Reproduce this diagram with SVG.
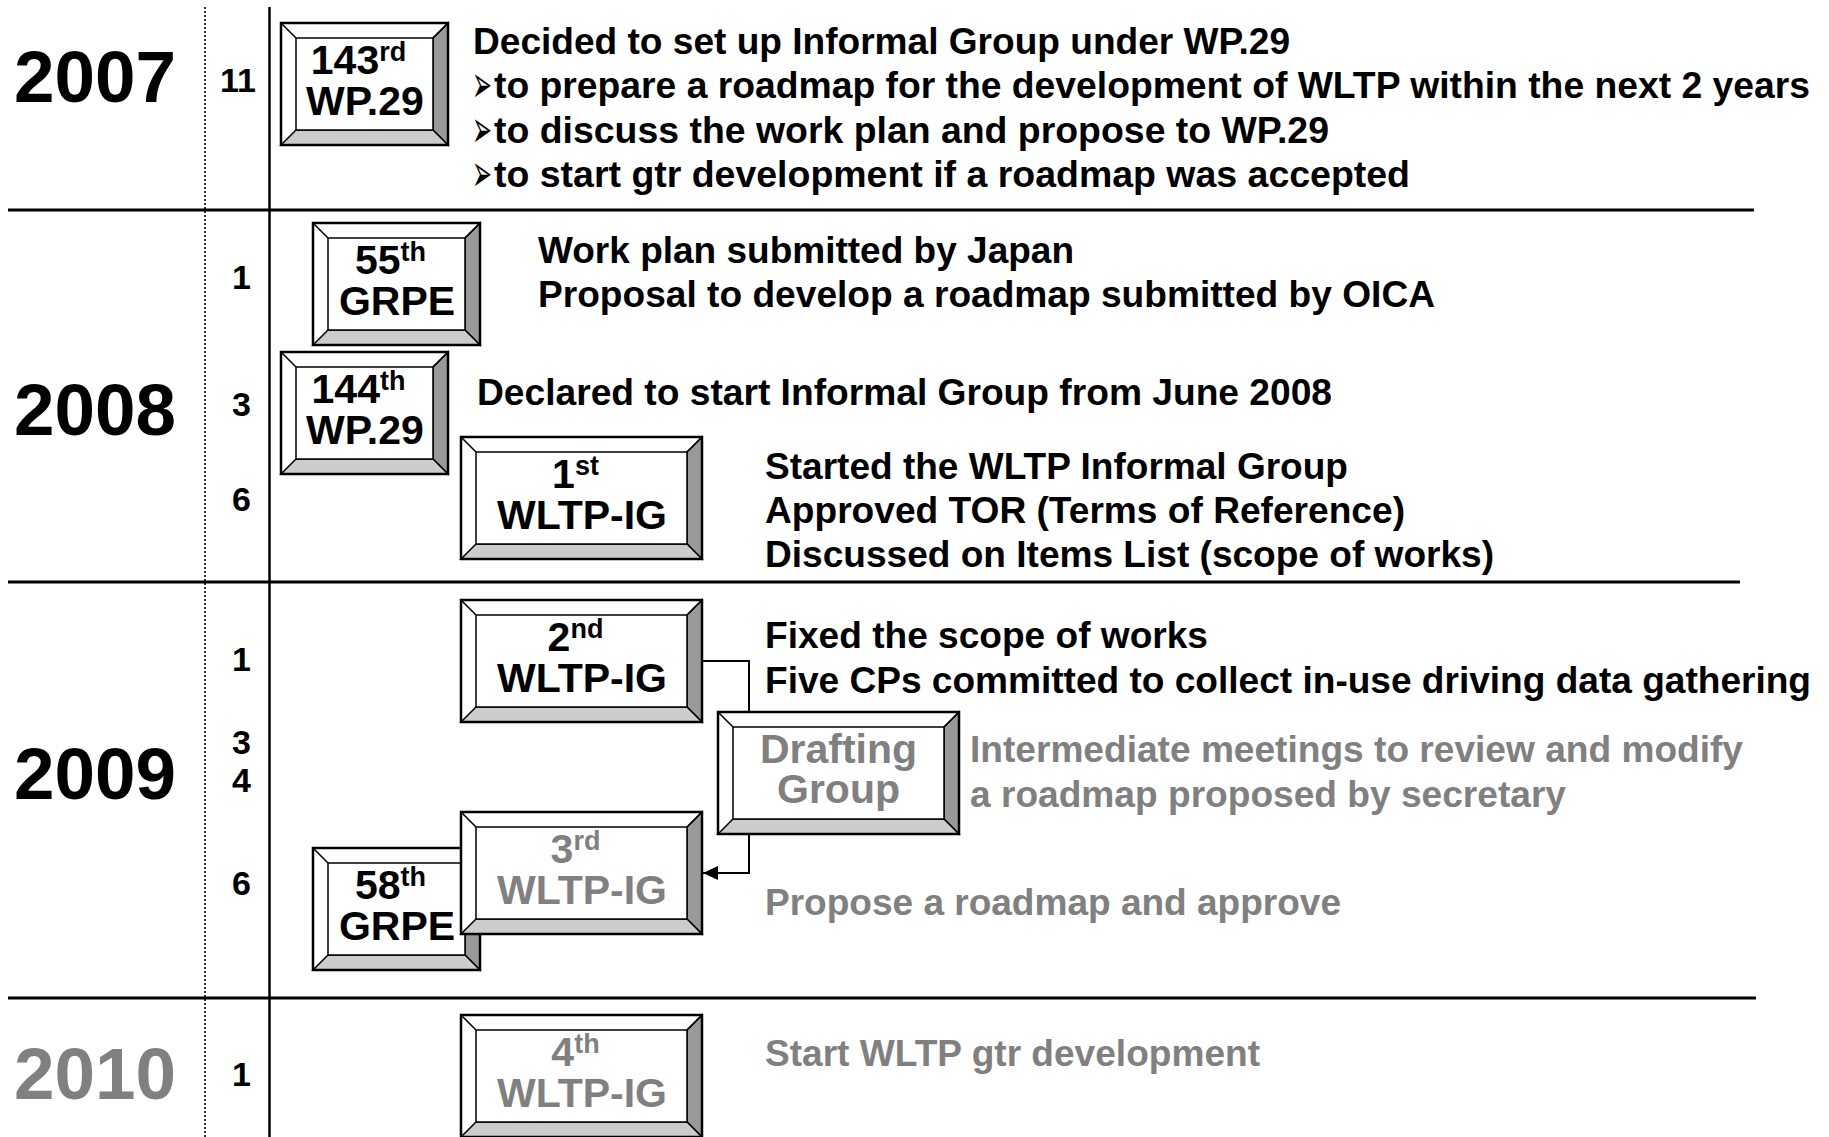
<svg xmlns="http://www.w3.org/2000/svg" width="1829" height="1137" viewBox="0 0 1829 1137">
<style>
  text { font-family: "Liberation Sans", Arial, sans-serif; font-weight: bold; fill: #000; }
  .yr { font-size: 72px; }
  .mo { font-size: 34px; text-anchor: middle; }
  .bx { font-size: 41px; text-anchor: middle; }
  .sup { font-size: 27px; }
  .tx { font-size: 37px; }
  .gray { fill: #808080; }
  .bul { font-family: "DejaVu Sans", sans-serif; font-size: 52px; font-weight: normal; }
  .sep { stroke: #000; stroke-width: 3; }
  .conn { fill: none; stroke: #000; stroke-width: 2; }
  .bev { stroke: #000; stroke-width: 1.5; stroke-linejoin: miter; }
</style>
<defs>
  <g id="bevS">
    <rect x="0" y="0" width="167" height="122" fill="#fff"/>
    <polygon class="bev" points="167,0 167,122 152,107 152,15" fill="#999"/>
    <polygon class="bev" points="0,122 167,122 152,107 15,107" fill="#ccc"/>
    <path class="bev" d="M0,0 L15,15 M167,0 L152,15" fill="none"/>
    <rect class="bev" x="15" y="15" width="137" height="92" fill="#fff"/>
    <rect x="0" y="0" width="167" height="122" fill="none" stroke="#000" stroke-width="2.5"/>
  </g>
  <g id="bevL">
    <rect x="0" y="0" width="241" height="122" fill="#fff"/>
    <polygon class="bev" points="241,0 241,122 226,107 226,15" fill="#999"/>
    <polygon class="bev" points="0,122 241,122 226,107 15,107" fill="#ccc"/>
    <path class="bev" d="M0,0 L15,15 M241,0 L226,15" fill="none"/>
    <rect class="bev" x="15" y="15" width="211" height="92" fill="#fff"/>
    <rect x="0" y="0" width="241" height="122" fill="none" stroke="#000" stroke-width="2.5"/>
  </g>
  <marker id="arr" markerUnits="userSpaceOnUse" markerWidth="16" markerHeight="14" refX="15" refY="7" orient="auto">
    <path d="M0,0 L15,7 L0,14 z" fill="#000"/>
  </marker>
</defs>

<g id="grid">
  <line x1="205" y1="7" x2="205" y2="1137" stroke="#333" stroke-width="2" stroke-dasharray="2,2"/>
  <line x1="269.5" y1="7" x2="269.5" y2="1137" stroke="#000" stroke-width="2.5"/>
  <line class="sep" x1="8" y1="210" x2="1754" y2="210"/>
  <line class="sep" x1="8" y1="582" x2="1740" y2="582"/>
  <line class="sep" x1="8" y1="998" x2="1756" y2="998" stroke-width="2.5"/>
</g>

<g id="years">
  <text class="yr" x="14" y="102" textLength="162" lengthAdjust="spacingAndGlyphs">2007</text>
  <text class="yr" x="14" y="435" textLength="162" lengthAdjust="spacingAndGlyphs">2008</text>
  <text class="yr" x="14" y="799" textLength="162" lengthAdjust="spacingAndGlyphs">2009</text>
  <text class="yr gray" x="14" y="1099" textLength="162" lengthAdjust="spacingAndGlyphs">2010</text>
</g>

<g id="months">
  <text class="mo" x="238" y="92">11</text>
  <text class="mo" x="241.5" y="289">1</text>
  <text class="mo" x="241.5" y="416">3</text>
  <text class="mo" x="241.5" y="511">6</text>
  <text class="mo" x="241.5" y="671">1</text>
  <text class="mo" x="241.5" y="754">3</text>
  <text class="mo" x="241.5" y="792">4</text>
  <text class="mo" x="241.5" y="895">6</text>
  <text class="mo" x="241.5" y="1086">1</text>
</g>

<g id="connectors">
  <path class="conn" d="M702,661 H749 V712"/>
  <path class="conn" d="M749,834 V873 H703" marker-end="url(#arr)"/>
</g>

<g id="node-wp29-143">
  <use href="#bevS" x="281" y="23"/>
  <text class="bx" x="358.5" y="74">143<tspan class="sup" dy="-13">rd</tspan></text>
  <text class="bx" x="365" y="115">WP.29</text>
</g>
<g id="node-grpe-55">
  <use href="#bevS" x="313" y="223"/>
  <text class="bx" x="390.5" y="274">55<tspan class="sup" dy="-13">th</tspan></text>
  <text class="bx" x="397" y="315">GRPE</text>
</g>
<g id="node-wp29-144">
  <use href="#bevS" x="281" y="352"/>
  <text class="bx" x="358.5" y="403">144<tspan class="sup" dy="-13">th</tspan></text>
  <text class="bx" x="365" y="444">WP.29</text>
</g>
<g id="node-wltp-1">
  <use href="#bevL" x="461" y="437"/>
  <text class="bx" x="575.5" y="488">1<tspan class="sup" dy="-13">st</tspan></text>
  <text class="bx" x="582" y="529">WLTP-IG</text>
</g>
<g id="node-wltp-2">
  <use href="#bevL" x="461" y="600"/>
  <text class="bx" x="575.5" y="651">2<tspan class="sup" dy="-13">nd</tspan></text>
  <text class="bx" x="582" y="692">WLTP-IG</text>
</g>
<g id="node-drafting">
  <use href="#bevL" x="718" y="712"/>
  <text class="bx gray" x="838.5" y="763">Drafting</text>
  <text class="bx gray" x="838.5" y="803">Group</text>
</g>
<g id="node-grpe-58">
  <use href="#bevS" x="313" y="848"/>
  <text class="bx" x="390.5" y="899">58<tspan class="sup" dy="-13">th</tspan></text>
  <text class="bx" x="397" y="940">GRPE</text>
</g>
<g id="node-wltp-3">
  <use href="#bevL" x="461" y="812"/>
  <text class="bx gray" x="575.5" y="863">3<tspan class="sup" dy="-13">rd</tspan></text>
  <text class="bx gray" x="582" y="904">WLTP-IG</text>
</g>
<g id="node-wltp-4">
  <use href="#bevL" x="461" y="1015"/>
  <text class="bx gray" x="575.5" y="1066">4<tspan class="sup" dy="-13">th</tspan></text>
  <text class="bx gray" x="582" y="1107">WLTP-IG</text>
</g>

<g id="notes-2007">
  <text class="tx" x="473" y="54" textLength="817" lengthAdjust="spacingAndGlyphs">Decided to set up Informal Group under WP.29</text>
  <text class="tx" x="472" y="98"><tspan class="bul" dy="4" textLength="20" lengthAdjust="spacingAndGlyphs">➢</tspan><tspan x="494" dy="-4" textLength="1316" lengthAdjust="spacingAndGlyphs">to prepare a roadmap for the development of WLTP within the next 2 years</tspan></text>
  <text class="tx" x="472" y="143"><tspan class="bul" dy="4" textLength="20" lengthAdjust="spacingAndGlyphs">➢</tspan><tspan x="494" dy="-4" textLength="835" lengthAdjust="spacingAndGlyphs">to discuss the work plan and propose to WP.29</tspan></text>
  <text class="tx" x="472" y="187"><tspan class="bul" dy="4" textLength="20" lengthAdjust="spacingAndGlyphs">➢</tspan><tspan x="494" dy="-4" textLength="916" lengthAdjust="spacingAndGlyphs">to start gtr development if a roadmap was accepted</tspan></text>
</g>

<g id="notes-2008">
  <text class="tx" x="538" y="263" textLength="536" lengthAdjust="spacingAndGlyphs">Work plan submitted by Japan</text>
  <text class="tx" x="538" y="307" textLength="897" lengthAdjust="spacingAndGlyphs">Proposal to develop a roadmap submitted by OICA</text>
  <text class="tx" x="477" y="405" textLength="855" lengthAdjust="spacingAndGlyphs">Declared to start Informal Group from June 2008</text>
  <text class="tx" x="765" y="479" textLength="583" lengthAdjust="spacingAndGlyphs">Started the WLTP Informal Group</text>
  <text class="tx" x="765" y="523" textLength="640" lengthAdjust="spacingAndGlyphs">Approved TOR (Terms of Reference)</text>
  <text class="tx" x="765" y="567" textLength="729" lengthAdjust="spacingAndGlyphs">Discussed on Items List (scope of works)</text>
</g>

<g id="notes-2009">
  <text class="tx" x="765" y="648" textLength="443" lengthAdjust="spacingAndGlyphs">Fixed the scope of works</text>
  <text class="tx" x="765" y="693" textLength="1046" lengthAdjust="spacingAndGlyphs">Five CPs committed to collect in-use driving data gathering</text>
  <text class="tx gray" x="970" y="762" textLength="773" lengthAdjust="spacingAndGlyphs">Intermediate meetings to review and modify</text>
  <text class="tx gray" x="970" y="807" textLength="596" lengthAdjust="spacingAndGlyphs">a roadmap proposed by secretary</text>
  <text class="tx gray" x="765" y="915" textLength="576" lengthAdjust="spacingAndGlyphs">Propose a roadmap and approve</text>
</g>

<g id="notes-2010">
  <text class="tx gray" x="765" y="1066" textLength="495" lengthAdjust="spacingAndGlyphs">Start WLTP gtr development</text>
</g>
</svg>
